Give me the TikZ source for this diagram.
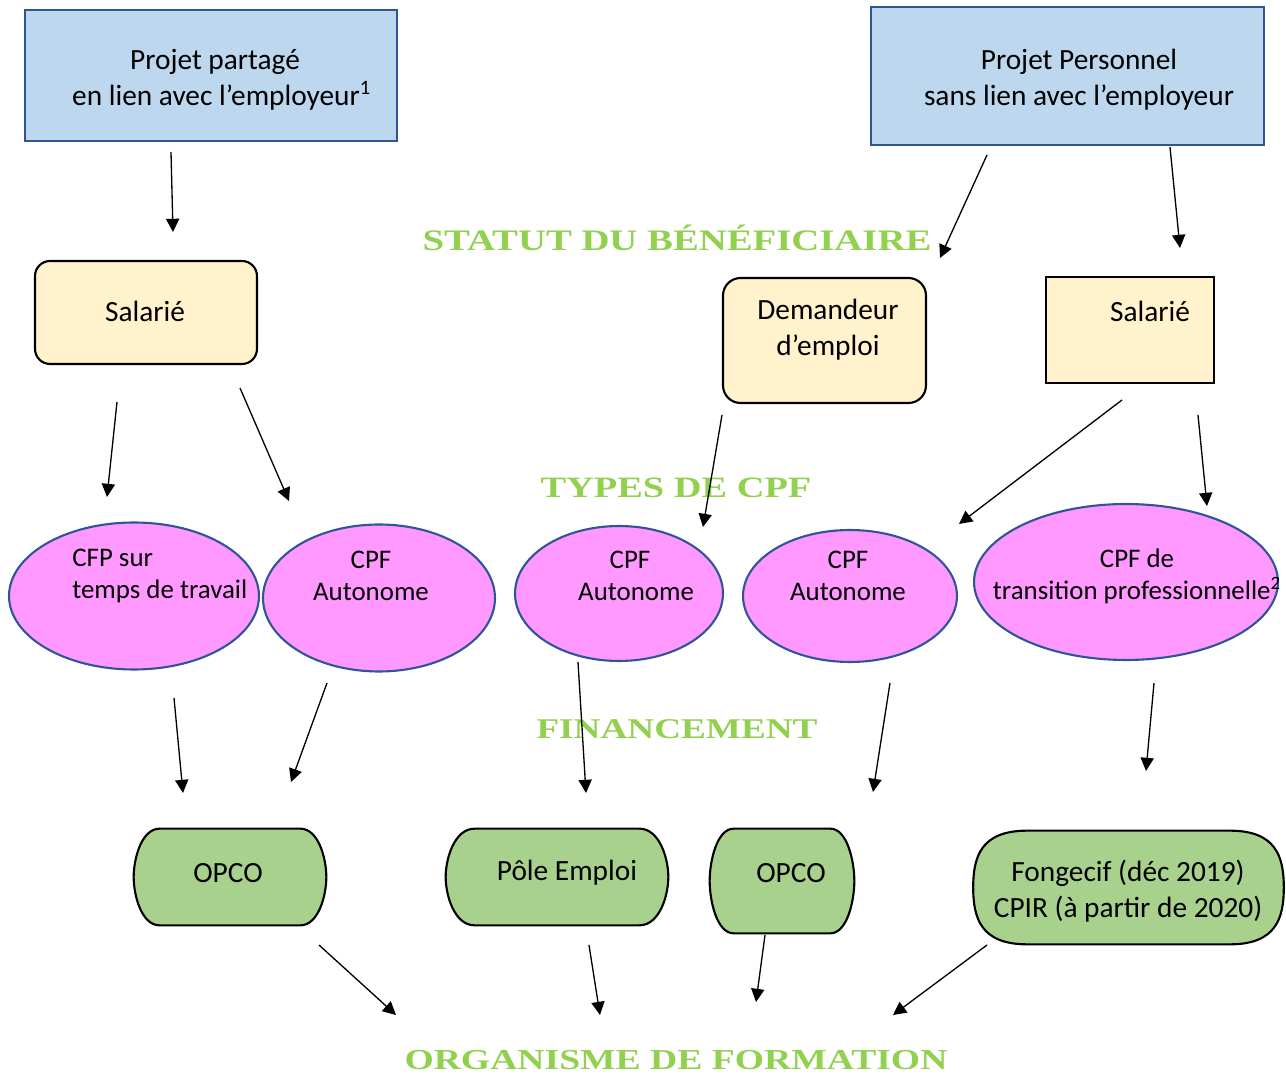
\documentclass[tikz,border=0pt]{standalone}
\usepackage{fontspec}
\setmainfont{Carlito}
\newfontfamily\headfont{Liberation Serif}[FakeStretch=1.3]
\usetikzlibrary{shapes.geometric,arrows.meta,calc}
\definecolor{boxblue}{HTML}{2F5597}
\definecolor{fillblue}{HTML}{BDD7EE}
\definecolor{fillyel}{HTML}{FFF2CC}
\definecolor{fillpink}{HTML}{FF99FF}
\definecolor{fillgreen}{HTML}{A9D18E}
\definecolor{headgreen}{HTML}{92D050}
\tikzset{
  every node/.style={font=\fontsize{16.7}{20.5}\selectfont, inner sep=0pt},
  projbox/.style={draw=boxblue, line width=1.2pt, fill=fillblue, align=center},
  statbox/.style={draw=black, line width=1.2pt, fill=fillyel, align=center},
  cpfell/.style={ellipse, draw=boxblue, line width=1.2pt, fill=fillpink},
  finbase/.style={rectangle},
  finline/.style={draw=black, line width=1.2pt, fill=fillgreen},
  txt/.style={align=center},
  elltxt/.style={align=center, font=\fontsize{15.3}{18.2}\selectfont},
  heading/.style={text=headgreen, font=\headfont\bfseries\fontsize{20}{24}\selectfont},
  arr/.style={line width=0.75pt, -{Triangle[length=7.5pt,width=7.5pt]}},
}
% #1 node, #2 bulge, #3 horizontal handle factor, #4 vertical handle fraction
\newcommand\gshape[4]{%
  \draw[finline] ($(#1.north west)+(#2,0)$) -- ($(#1.north east)+(-#2,0)$)
    .. controls +(#3*#2,0) and ($(#1.east)!#4!(#1.north east)$) .. (#1.east)
    .. controls ($(#1.east)!#4!(#1.south east)$) and +(#3*#2,0) .. ($(#1.south east)+(-#2,0)$)
    -- ($(#1.south west)+(#2,0)$)
    .. controls +(-#3*#2,0) and ($(#1.west)!#4!(#1.south west)$) .. (#1.west)
    .. controls ($(#1.west)!#4!(#1.north west)$) and +(-#3*#2,0) .. ($(#1.north west)+(#2,0)$)
    -- cycle;}
\begin{document}
\begin{tikzpicture}[x=0.02cm,y=-0.02cm]
\useasboundingbox (0,0) rectangle (1286,1077);
% top projects
\node[projbox, minimum width=7.44cm, minimum height=2.62cm] (p1) at (211,75.5) {};
\node[txt] (tp1) at (215,80) {Projet partagé\hspace{1.2em}\\ \ \ en lien avec l’employeur\textsuperscript{1}};
\node[projbox, minimum width=7.86cm, minimum height=2.76cm] (p2) at (1067.5,76) {};
\node[txt] (tp2) at (1079,80) {Projet Personnel\\ sans lien avec l’employeur};
% headings
\node[heading] (h1) at (677,238) {\resizebox{10.18cm}{!}{STATUT DU BÉNÉFICIAIRE}};
\node[heading] (h2) at (676,488) {\resizebox{5.42cm}{!}{TYPES DE CPF}};
\node[heading] (h3) at (677,729) {\resizebox{5.62cm}{!}{FINANCEMENT}};
\node[heading] (h4) at (676,1060) {\resizebox{10.86cm}{!}{ORGANISME DE FORMATION}};
% statuts
\node[statbox, rounded corners=0.3cm, minimum width=4.44cm, minimum height=2.06cm] (s1) at (146,312.5) {};
\node[txt] (ts1) at (145,311) {Salarié};
\node[statbox, rounded corners=0.35cm, minimum width=4.06cm, minimum height=2.5cm] (d1) at (824.5,340.5) {};
\node[txt] (td1) at (828,330) {Demandeur\\ d’emploi};
\node[statbox, minimum width=3.36cm, minimum height=2.12cm] (s2) at (1130,330) {};
\node[txt] (ts2) at (1150,311) {Salarié};
% CPF types
\node[cpfell, minimum width=5.0cm, minimum height=2.94cm] (e1) at (134,596) {};
\node[elltxt, align=left, anchor=west] (te1) at (72,576) {CFP sur\\ temps de travail};
\node[cpfell, minimum width=4.64cm, minimum height=2.94cm] (e2) at (379,598) {};
\node[elltxt] (te2) at (371,576) {CPF\\ Autonome};
\node[cpfell, minimum width=4.16cm, minimum height=2.7cm] (e3) at (619,593.5) {};
\node[elltxt] (te3) at (630,576) {CPF\hspace{0.8em}\\ \ \ Autonome};
\node[cpfell, minimum width=4.28cm, minimum height=2.64cm] (e4) at (850,596) {};
\node[elltxt] (te4) at (848,576) {CPF\\ Autonome};
\node[cpfell, minimum width=6.08cm, minimum height=3.12cm] (e5) at (1126,582) {};
\node[elltxt] (te5) at (1137,576) {CPF de\hspace{2.5em}\\ transition professionnelle\textsuperscript{2}};
% financement
\node[finbase, minimum width=3.84cm, minimum height=1.92cm] (g1) at (230,877) {};
\gshape{g1}{26}{0.7}{0.38}
\node[txt] (tg1) at (228,873) {OPCO};
\node[finbase, minimum width=4.44cm, minimum height=1.92cm] (g2) at (557,877) {};
\gshape{g2}{29}{0.7}{0.38}
\node[txt] (tg2) at (567,873) {Pôle Emploi};
\node[finbase, minimum width=2.88cm, minimum height=2.08cm] (g3) at (782,881) {};
\gshape{g3}{24}{0.7}{0.38}
\node[txt] (tg3) at (791,873) {OPCO};
\node[finbase, minimum width=6.2cm, minimum height=2.26cm] (g4) at (1128.5,887.5) {};
\gshape{g4}{54}{0.85}{0.55}
\node[txt] (tg4) at (1128,891) {Fongecif (déc 2019)\\ CPIR (à partir de 2020)};
% arrows
\foreach \i/\sx/\sy/\ex/\ey in {
  1/171/152/173/232, 2/987/155/940/258, 3/1170/147/1180/248,
  4/117/402/107/497, 5/240/388/289/501, 6/722/415/703/527,
  7/1122/400/959/524, 8/1198/415/1207/506,
  9/174/698/183/793, 10/327/683/291/782, 11/578/662/586/793,
  12/890/683/873/792, 13/1154/683/1146/771,
  14/319/945/396/1015, 15/589/945/600/1015, 16/765/935/756/1002,
  17/987/945/893/1015} {
  \coordinate (s\i) at (\sx,\sy);
  \coordinate (t\i) at (\ex,\ey);
  \draw[arr] (s\i) -- (t\i);
}
\end{tikzpicture}
\end{document}
